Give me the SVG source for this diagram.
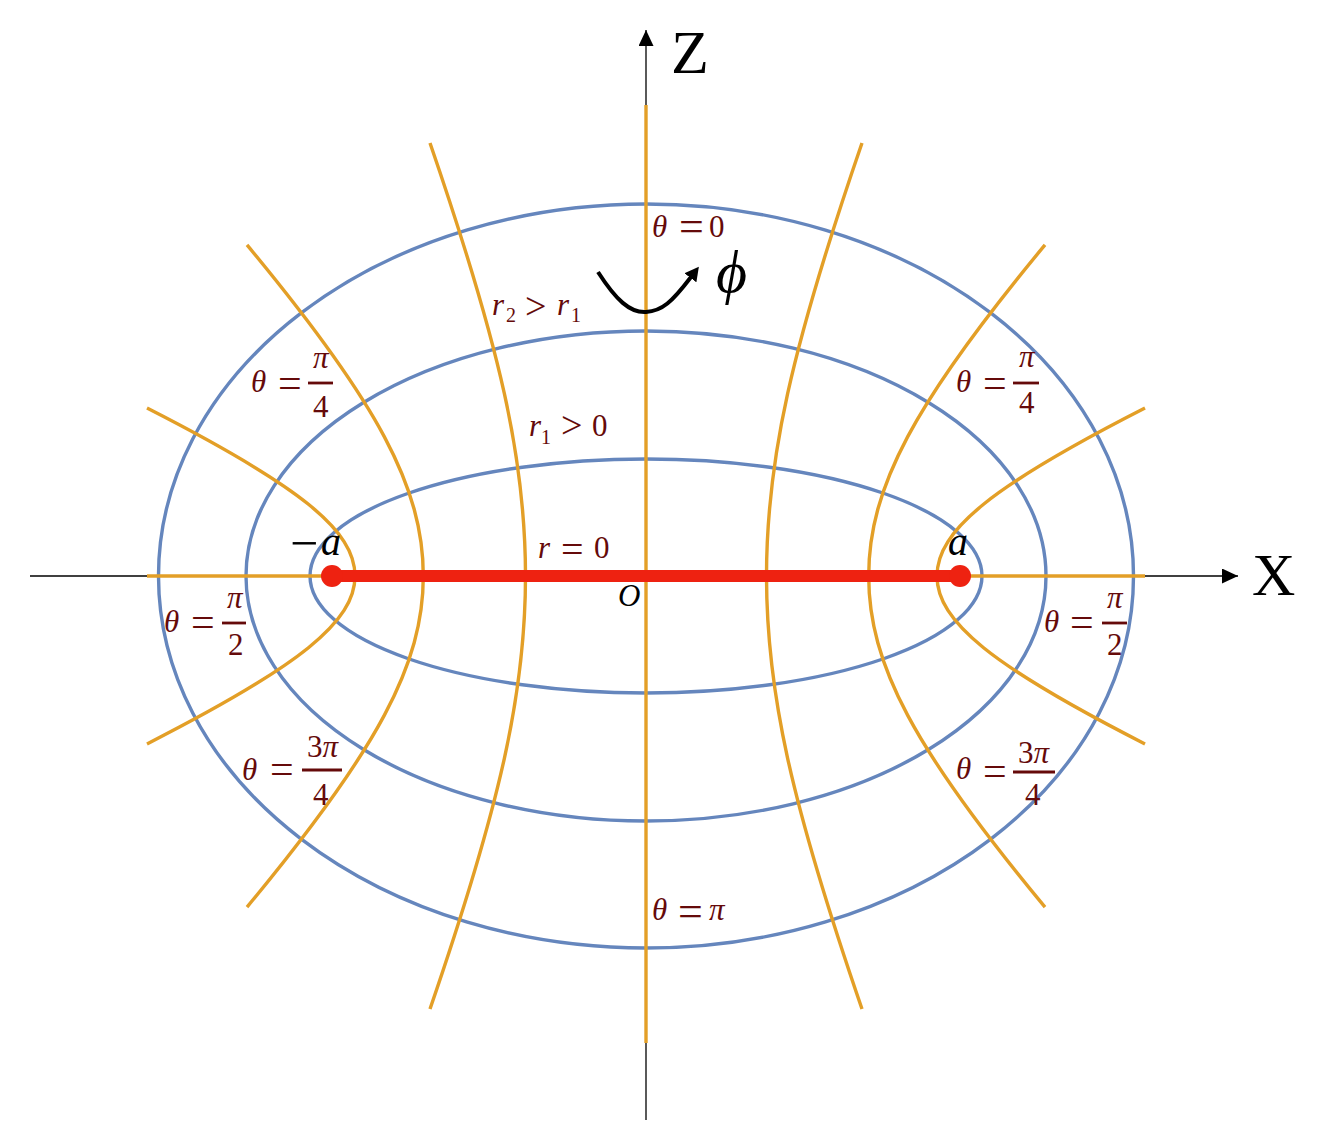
<svg xmlns="http://www.w3.org/2000/svg" width="1320" height="1148" viewBox="0 0 1320 1148">
<style>
.ell{fill:none;stroke:#6586BD;stroke-width:3.4}
.hyp{fill:none;stroke:#E39F27;stroke-width:3.4}
.ax{fill:none;stroke:#000;stroke-width:1.3}
.lbl{font-family:"Liberation Serif","Times New Roman",serif;fill:#650A0A;font-size:31px}
.it{font-style:italic}
.bar{stroke:#650A0A;stroke-width:2.8}
.blk{font-family:"Liberation Serif","Times New Roman",serif;fill:#000}
</style>
<defs>
<marker id="axh" viewBox="0 0 16 15" refX="16" refY="7.5" markerWidth="16" markerHeight="15" markerUnits="userSpaceOnUse" orient="auto">
<path d="M0,0 L16,7.5 L0,15 z" fill="#000"/>
</marker>
<marker id="phh" viewBox="0 -7.5 14 15" refX="1" refY="0" markerWidth="14" markerHeight="15" markerUnits="userSpaceOnUse" orient="auto">
<path d="M0,-7.5 L14,0 L0,7.5 z" fill="#000"/>
</marker>
</defs>
<rect width="1320" height="1148" fill="#fff"/>
<g id="axes">
<line class="ax" x1="30" y1="576" x2="1238" y2="576" marker-end="url(#axh)"/>
<line class="ax" x1="646" y1="1120" x2="646" y2="30" marker-end="url(#axh)"/>
</g>
<g id="ellipses">
<ellipse class="ell" cx="646" cy="576" rx="336" ry="117"/>
<ellipse class="ell" cx="646" cy="576" rx="400" ry="245"/>
<ellipse class="ell" cx="646" cy="576" rx="487.5" ry="372"/>
</g>
<g id="hyperbolas">
<line class="hyp" x1="646" y1="105" x2="646" y2="1043"/>
<line class="hyp" x1="147" y1="576" x2="1145" y2="576"/>
<path class="hyp" d="M430,143 C501,349.6 525.5,460.7 525.5,576 C525.5,691.3 501,802.4 430,1009"/>
<path class="hyp" d="M862,143 C791,349.6 766.5,460.7 766.5,576 C766.5,691.3 791,802.4 862,1009"/>
<path class="hyp" d="M247,244.9 C378,402.8 423.3,487.9 423.3,576 C423.3,664.1 378,749.2 247,907.1"/>
<path class="hyp" d="M1045,244.9 C914,402.8 868.7,487.9 868.7,576 C868.7,664.1 914,749.2 1045,907.1"/>
<path class="hyp" d="M147,408.1 C300.2,486.2 355,530.5 355,576 C355,621.5 300.2,665.8 147,743.9"/>
<path class="hyp" d="M1145,408.1 C991.8,486.2 937,530.5 937,576 C937,621.5 991.8,665.8 1145,743.9"/>
</g>
<g id="segment">
<line x1="332" y1="576" x2="960" y2="576" stroke="#EE2211" stroke-width="12"/>
<circle cx="332" cy="576" r="11" fill="#EE2211"/>
<circle cx="960" cy="576" r="11" fill="#EE2211"/>
</g>
<g id="phi-arrow">
<path d="M598,272 C616,300 630,313 646,312 C662,311 672,302 691,277" fill="none" stroke="#000" stroke-width="4" marker-end="url(#phh)"/>
<text class="blk it" x="716" y="292" font-size="60">ϕ</text>
</g>
<g id="axis-labels">
<text class="blk" x="671" y="73" font-size="62">Z</text>
<text class="blk" x="1252" y="595" font-size="60">X</text>
<text class="blk" x="618" y="606" font-size="31"><tspan class="it">O</tspan></text>
<text class="blk" y="555" font-size="40"><tspan x="290" y="560" font-size="50">−</tspan><tspan x="321" y="555" class="it">a</tspan></text>
<text class="blk it" x="948" y="555" font-size="40">a</text>
</g>
<g id="theta-labels">
<text class="lbl" y="237"><tspan class="it" x="652">θ</tspan><tspan x="679" y="241" font-size="44">=</tspan><tspan x="709" y="237">0</tspan></text>
<text class="lbl" y="920"><tspan class="it" x="652">θ</tspan><tspan x="678" y="926" font-size="44">=</tspan><tspan class="it" x="709" y="920">π</tspan></text>
<text class="lbl" y="392"><tspan class="it" x="251">θ</tspan><tspan x="278" y="397" font-size="42">=</tspan></text>
<line class="bar" x1="308" y1="383" x2="333" y2="383"/>
<text class="lbl it" x="313" y="368" font-size="27">π</text>
<text class="lbl" x="313" y="417" font-size="26">4</text>
<text class="lbl" y="392"><tspan class="it" x="956">θ</tspan><tspan x="983" y="397" font-size="42">=</tspan></text>
<line class="bar" x1="1013" y1="383" x2="1039" y2="383"/>
<text class="lbl it" x="1019" y="367" font-size="27">π</text>
<text class="lbl" x="1019" y="413" font-size="26">4</text>
<text class="lbl" y="632"><tspan class="it" x="164">θ</tspan><tspan x="191" y="636" font-size="42">=</tspan></text>
<line class="bar" x1="222" y1="623" x2="246" y2="623"/>
<text class="lbl it" x="227" y="608" font-size="27">π</text>
<text class="lbl" x="228" y="655" font-size="26">2</text>
<text class="lbl" y="632"><tspan class="it" x="1044">θ</tspan><tspan x="1070" y="636" font-size="42">=</tspan></text>
<line class="bar" x1="1102" y1="623" x2="1127" y2="623"/>
<text class="lbl it" x="1107" y="608" font-size="27">π</text>
<text class="lbl" x="1107" y="655" font-size="26">2</text>
<text class="lbl" y="780"><tspan class="it" x="242">θ</tspan><tspan x="270" y="783" font-size="42">=</tspan></text>
<line class="bar" x1="302" y1="770" x2="342" y2="770"/>
<text class="lbl" x="307" y="757" font-size="27">3<tspan class="it">π</tspan></text>
<text class="lbl" x="313" y="805" font-size="26">4</text>
<text class="lbl" y="779"><tspan class="it" x="956">θ</tspan><tspan x="983" y="785" font-size="42">=</tspan></text>
<line class="bar" x1="1013" y1="772" x2="1055" y2="772"/>
<text class="lbl" x="1018" y="763" font-size="27">3<tspan class="it">π</tspan></text>
<text class="lbl" x="1025" y="805" font-size="26">4</text>
</g>
<g id="r-labels">
<text class="lbl" y="558" font-size="29"><tspan class="it" x="538">r</tspan><tspan x="561" y="563" font-size="40">=</tspan><tspan x="594" y="558">0</tspan></text>
<text class="lbl" y="436" font-size="29"><tspan class="it" x="529">r</tspan><tspan x="541" y="444" font-size="20">1</tspan><tspan x="561" y="438" font-size="38">&gt;</tspan><tspan x="592" y="436">0</tspan></text>
<text class="lbl" y="315" font-size="29"><tspan class="it" x="492">r</tspan><tspan x="506" y="322" font-size="20">2</tspan><tspan x="525" y="319" font-size="38">&gt;</tspan><tspan class="it" x="557" y="315">r</tspan><tspan x="571" y="322" font-size="20">1</tspan></text>
</g>
</svg>
